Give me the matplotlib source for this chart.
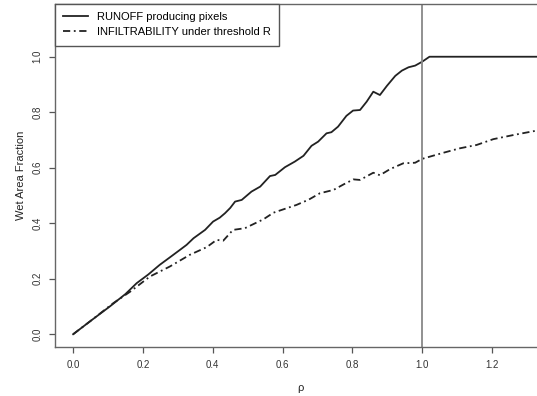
import numpy as np
import matplotlib.pyplot as plt

plt.rcParams["font.family"] = ["Liberation Sans", "DejaVu Sans"]

# 径流像元比例
rho_runoff = [0.00, 0.05, 0.105, 0.13, 0.15, 0.182, 0.215, 0.248, 0.275, 0.306,
              0.325, 0.345, 0.378, 0.401, 0.42, 0.435, 0.45, 0.464, 0.483, 0.511,
              0.536, 0.564, 0.579, 0.607, 0.635, 0.66, 0.683, 0.702, 0.726, 0.74,
              0.759, 0.783, 0.802, 0.822, 0.841, 0.86, 0.879, 0.899, 0.923, 0.942,
              0.961, 0.98, 1.0, 1.021, 1.36]
runoff = [0.000, 0.048, 0.100, 0.125, 0.145, 0.184, 0.215, 0.250, 0.275, 0.304,
          0.322, 0.346, 0.376, 0.406, 0.420, 0.436, 0.455, 0.478, 0.484, 0.514,
          0.532, 0.570, 0.574, 0.602, 0.622, 0.643, 0.679, 0.694, 0.724, 0.728,
          0.748, 0.787, 0.806, 0.808, 0.838, 0.874, 0.862, 0.895, 0.931, 0.950,
          0.962, 0.968, 0.982, 1.000, 1.000]

# 入渗能力低于阈值的比例
rho_infil = [0.00, 0.05, 0.115, 0.163, 0.22, 0.277, 0.334, 0.383, 0.411, 0.43,
             0.458, 0.492, 0.525, 0.545, 0.574, 0.607, 0.64, 0.675, 0.707, 0.746,
             0.775, 0.803, 0.822, 0.86, 0.879, 0.908, 0.946, 0.98, 1.0, 1.061,
             1.108, 1.156, 1.204, 1.262, 1.329, 1.36]
infil = [0.000, 0.048, 0.112, 0.153, 0.208, 0.244, 0.286, 0.314, 0.340, 0.337,
         0.376, 0.382, 0.402, 0.414, 0.438, 0.452, 0.466, 0.485, 0.508, 0.520,
         0.540, 0.558, 0.556, 0.582, 0.573, 0.595, 0.616, 0.618, 0.632, 0.654,
         0.670, 0.682, 0.703, 0.718, 0.734, 0.740]

x_ticks = [0.0, 0.2, 0.4, 0.6, 0.8, 1.0, 1.2]
y_ticks = [0.0, 0.2, 0.4, 0.6, 0.8, 1.0]

W, H = 537, 396
fig = plt.figure(figsize=(W / 100, H / 100), dpi=100)
# 右侧被裁掉，坐标区超出画布
ax = fig.add_axes([55 / W, (H - 347) / H, 490 / W, 343 / H])

ax.plot(rho_runoff, runoff, color="#222222", lw=1.3, label="RUNOFF producing pixels")
ax.plot(rho_infil, infil, color="#222222", lw=1.3, dashes=(4, 2, 1, 2),
        label="INFILTRABILITY under threshold R")
ax.axvline(1.0, color="#888888", lw=1.3)

ax.set_xlim(-0.052, 1.352)
ax.set_ylim(-0.046, 1.19)

ax.set_xticks(x_ticks)
ax.set_xticklabels([f"{v:.1f}" for v in x_ticks])
ax.set_yticks(y_ticks)
ax.set_yticklabels([f"{v:.1f}" for v in y_ticks], rotation=90, va="center")
ax.tick_params(direction="out", length=4, width=0.9, color="#555555",
               labelsize=7, labelcolor="#333333", pad=5)
for s in ax.spines.values():
    s.set_color("#666666")
    s.set_linewidth(1.0)

ax.set_xlabel("ρ", fontsize=8, color="#222222", labelpad=10)
ax.set_ylabel("Wet Area Fraction", fontsize=8, color="#222222", labelpad=5)

leg = ax.legend(loc="upper left", borderaxespad=0, fancybox=False, fontsize=8,
                handlelength=2.2, handletextpad=0.8, borderpad=0.75,
                labelspacing=0.45, framealpha=1)
leg.get_frame().set_edgecolor("#555555")
leg.get_frame().set_linewidth(1.0)

fig.savefig("out.png", dpi=100)
